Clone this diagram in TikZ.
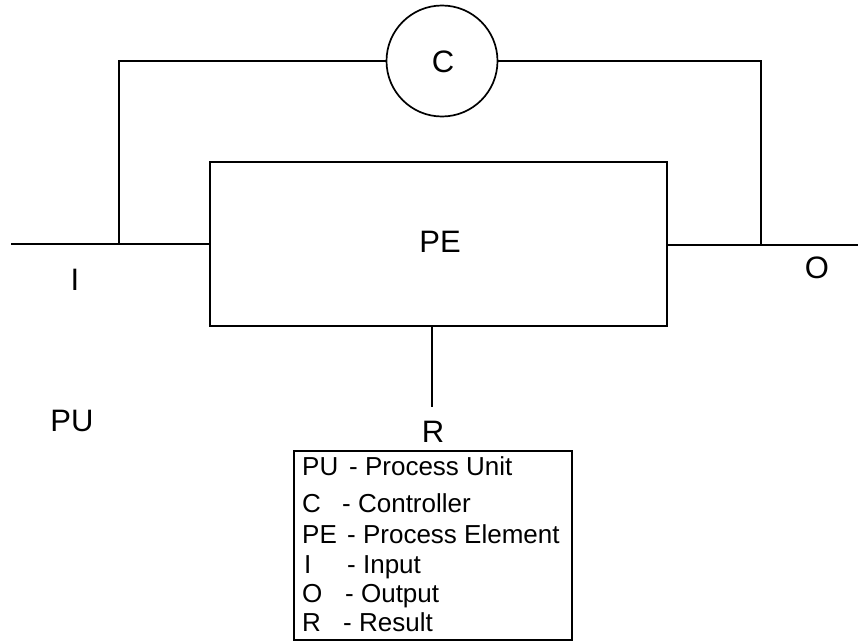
\documentclass[tikz,border=0pt]{standalone}
\usepackage{fontspec}
\setmainfont{Liberation Sans}
\begin{document}
\begin{tikzpicture}[x=1pt,y=-1pt,
  wire/.style={line width=1.7pt},
  big/.style={font=\fontsize{31}{33}\selectfont, inner sep=0pt},
  leg/.style={font=\fontsize{26}{28}\selectfont, inner sep=0pt, anchor=base west}]
\useasboundingbox (0,0) rectangle (858,642);
% nodes
\node[draw, wire, circle, minimum size=111pt, inner sep=0pt] (C) at (442,61) {};
\node[big] (Clab) at (443,62) {C};
\node[draw, wire, rectangle, minimum width=457pt, minimum height=164pt, inner sep=0pt] (PE) at (438.5,244) {};
\node[big] (PElab) at (440,242) {PE};
\coordinate (inL) at (11,244);
\coordinate (jl) at (119,244);
\coordinate (outR) at (858,245);
\coordinate (jr) at (761,245);
\coordinate (rEnd) at (432,407);
% connectors
\draw[wire] (inL) -- (PE.west);
\draw[wire] (jl) |- (C.west);
\draw[wire] (PE.east |- jr) -- (outR);
\draw[wire] (C.east) -| (jr);
\draw[wire] (rEnd |- PE.south) -- (rEnd);
% labels
\node[big] (I) at (75,280) {I};
\node[big] (O) at (817,268) {O};
\node[big] (PU) at (72,421) {PU};
\node[big] (R) at (433,432) {R};
% legend
\node[draw, line width=1.4pt, rectangle, minimum width=278pt, minimum height=189pt, inner sep=0pt] (legend) at (433,545.5) {};
\node[leg] (a1) at (302,475) {PU};
\node[leg] (b1) at (349,475) {- Process Unit};
\node[leg] (a2) at (302,512) {C};
\node[leg] (b2) at (342,512) {- Controller};
\node[leg] (a3) at (302,543) {PE};
\node[leg] (b3) at (347,543) {- Process Element};
\node[leg] (a4) at (304,573) {I};
\node[leg] (b4) at (347,573) {- Input};
\node[leg] (a5) at (302,602) {O};
\node[leg] (b5) at (345,602) {- Output};
\node[leg] (a6) at (302,631) {R};
\node[leg] (b6) at (343,631) {- Result};
\end{tikzpicture}
\end{document}
